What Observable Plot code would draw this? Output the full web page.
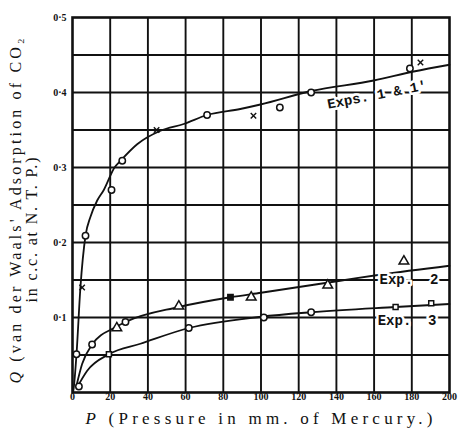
<!DOCTYPE html>
<html>
<head>
<meta charset="utf-8">
<script src="https://cdn.jsdelivr.net/npm/d3@7"></script>
<script src="https://cdn.jsdelivr.net/npm/@observablehq/plot@0.6"></script>
<style>
  html, body { margin: 0; padding: 0; background: #fff; }
  svg { display: block; }
</style>
</head>
<body>
<div id="chart"></div>
<script>
// ---- data ----
const xTicks = [0, 20, 40, 60, 80, 100, 120, 140, 160, 180, 200];
const xTickLabels = ["0", "20", "40", "60", "80", "100", "120", "140", "160", "180", "200"];
const yGrid = [0.05, 0.1, 0.15, 0.2, 0.25, 0.3, 0.35, 0.4, 0.45];
const yTicks = [0.1, 0.2, 0.3, 0.4, 0.5];
const yTickLabels = ["0·1", "0·2", "0·3", "0·4", "0·5"];

const exp1CurveP = [0.3, 0.7, 2.1, 4.2, 6.9, 9.5, 13.1, 16.6, 22.3, 25.5, 34.3, 46.7, 59, 71.4, 89, 99.7, 126.6, 159.8, 181, 200];
const exp1CurveQ = [0, 0.007, 0.05, 0.14, 0.209, 0.234, 0.256, 0.27, 0.30, 0.309, 0.331, 0.349, 0.358, 0.37, 0.378, 0.384, 0.402, 0.416, 0.428, 0.437];
const exp2CurveP = [2.1, 5.1, 10.4, 22.8, 28.1, 56.4, 83.8, 100, 142, 163, 200];
const exp2CurveQ = [0.009, 0.038, 0.064, 0.087, 0.094, 0.114, 0.127, 0.133, 0.149, 0.157, 0.169];
const exp3CurveP = [2.5, 7.8, 19.3, 36, 61.7, 100, 126.6, 171.4, 200];
const exp3CurveQ = [0.007, 0.029, 0.051, 0.065, 0.086, 0.101, 0.107, 0.114, 0.118];

const exp1CircleP = [2.1, 6.9, 20.7, 26.4, 71.4, 110, 126.6, 179];
const exp1CircleQ = [0.051, 0.209, 0.27, 0.309, 0.37, 0.38, 0.40, 0.432];
const exp1CrossP = [5.1, 44.6, 96, 184.6];
const exp1CrossQ = [0.14, 0.35, 0.369, 0.44];
const exp2TriangleP = [23.5, 56.4, 94.8, 135.4, 175.8];
const exp2TriangleQ = [0.086, 0.115, 0.127, 0.143, 0.175];
const exp2FilledP = [83.8];
const exp2FilledQ = [0.127];
const exp2CircleP = [10.4, 28.1];
const exp2CircleQ = [0.064, 0.094];
const exp3CircleP = [3.4, 61.7, 101.5, 126.6];
const exp3CircleQ = [0.008, 0.086, 0.100, 0.107];
const exp3SquareP = [19.3, 171.4, 190.3];
const exp3SquareQ = [0.051, 0.114, 0.119];

const curveLabels = ["Exps. 1 & 1'", "Exp.  2", "Exp.  3"];

const zip = (P, Q) => P.map((p, i) => ({P: p, Q: Q[i]}));
const c1 = zip(exp1CurveP, exp1CurveQ);
const c2 = zip(exp2CurveP, exp2CurveQ);
const c3 = zip(exp3CurveP, exp3CurveQ);

const ink = "#111";
const SERIF = "Liberation Serif, DejaVu Serif, Times New Roman, serif";
const MONO = "Liberation Mono, DejaVu Sans Mono, Courier New, monospace";
const labelStyle = {fontWeight: "bold", fontSize: 14, fill: ink, stroke: "white", strokeWidth: 5, fontFamily: MONO, className: "mono"};

const chart = Plot.plot({
  width: 459,
  height: 430,
  marginLeft: 72,
  marginRight: 10,
  marginTop: 17,
  marginBottom: 38,
  style: {background: "#fff"},
  x: {domain: [0, 200], axis: null},
  y: {domain: [0, 0.5], axis: null},
  marks: [
    Plot.ruleX(xTicks.slice(1, -1), {x: d => d, stroke: ink, strokeWidth: 1.9}),
    Plot.ruleY(yGrid, {y: d => d, stroke: ink, strokeWidth: 1.9}),
    Plot.frame({stroke: ink, strokeWidth: 2.6}),
    Plot.line(c1, {x: "P", y: "Q", curve: "monotone-x", stroke: ink, strokeWidth: 1.8}),
    Plot.line(c2, {x: "P", y: "Q", curve: "monotone-x", stroke: ink, strokeWidth: 1.8}),
    Plot.line(c3, {x: "P", y: "Q", curve: "monotone-x", stroke: ink, strokeWidth: 1.8}),
    Plot.text([curveLabels[0]], {x: () => 161.5, y: () => 0.397, text: d => d, rotate: -11, ...labelStyle}),
    Plot.text([curveLabels[1]], {x: () => 178.5, y: () => 0.151, text: d => d, ...labelStyle}),
    Plot.text([curveLabels[2]], {x: () => 177.5, y: () => 0.096, text: d => d, ...labelStyle}),
    Plot.dot(zip(exp1CircleP, exp1CircleQ), {x: "P", y: "Q", r: 3.2, fill: "white", stroke: ink, strokeWidth: 1.5}),
    Plot.dot(zip(exp1CrossP, exp1CrossQ), {x: "P", y: "Q", symbol: "times", r: 2.6, stroke: ink, strokeWidth: 1.4}),
    Plot.dot(zip(exp2TriangleP, exp2TriangleQ), {x: "P", y: "Q", symbol: "triangle", r: 3.6, fill: "white", stroke: ink, strokeWidth: 1.5}),
    Plot.dot(zip(exp2FilledP, exp2FilledQ), {x: "P", y: "Q", symbol: "square", r: 3, fill: ink, stroke: ink}),
    Plot.dot(zip(exp2CircleP, exp2CircleQ), {x: "P", y: "Q", r: 3.2, fill: "white", stroke: ink, strokeWidth: 1.5}),
    Plot.dot(zip(exp3CircleP, exp3CircleQ), {x: "P", y: "Q", r: 3.2, fill: "white", stroke: ink, strokeWidth: 1.5}),
    Plot.dot(zip(exp3SquareP, exp3SquareQ), {x: "P", y: "Q", symbol: "square", r: 2.8, fill: "white", stroke: ink, strokeWidth: 1.5}),
    Plot.text(xTicks, {x: d => d, text: (d, i) => xTickLabels[i], frameAnchor: "bottom", dy: 7,
      fontWeight: "bold", fontSize: 10, fill: ink, fontFamily: SERIF, className: "serif"}),
    Plot.text(yTicks, {y: d => d, text: (d, i) => yTickLabels[i], frameAnchor: "left", textAnchor: "end", dx: -6,
      fontWeight: "bold", fontSize: 10, fill: ink, fontFamily: SERIF, className: "serif"}),
    Plot.text(["P (Pressure in mm. of Mercury.)"], {text: d => d, frameAnchor: "bottom-left", textAnchor: "start", dx: 13, dy: 31,
      fontSize: 17, fill: ink, fontFamily: SERIF, className: "xlabel"}),
    Plot.text(["Q (van der Waals' Adsorption of CO₂"], {text: d => d, frameAnchor: "bottom-left", textAnchor: "start", rotate: -90, dx: -52, dy: -9,
      fontSize: 16, fill: ink, fontFamily: SERIF, className: "ylabel1"}),
    Plot.text(["in c.c. at N. T. P.)"], {text: d => d, frameAnchor: "bottom-left", textAnchor: "start", rotate: -90, dx: -36, dy: -90,
      fontSize: 16, fill: ink, fontFamily: SERIF, className: "ylabel2"})
  ]
});

document.getElementById("chart").appendChild(chart);

const sel = d3.select(chart);
sel.selectAll("g.serif text, g.xlabel text, g.ylabel1 text, g.ylabel2 text").style("font-family", SERIF);
sel.selectAll("g.mono text").style("font-family", MONO);

function styleLabel(cls, len) {
  const t = sel.select("g." + cls + " text");
  if (t.empty()) return;
  const s = t.text();
  t.text(null);
  t.append("tspan").attr("font-style", "italic").text(s[0]);
  t.append("tspan").text(s.slice(1));
  if (len) t.attr("textLength", len).attr("lengthAdjust", "spacing");
}
styleLabel("xlabel", 347);
styleLabel("ylabel1", 345);
const y2 = sel.select("g.ylabel2 text");
if (!y2.empty()) y2.attr("textLength", 145).attr("lengthAdjust", "spacing");
</script>
</body>
</html>
